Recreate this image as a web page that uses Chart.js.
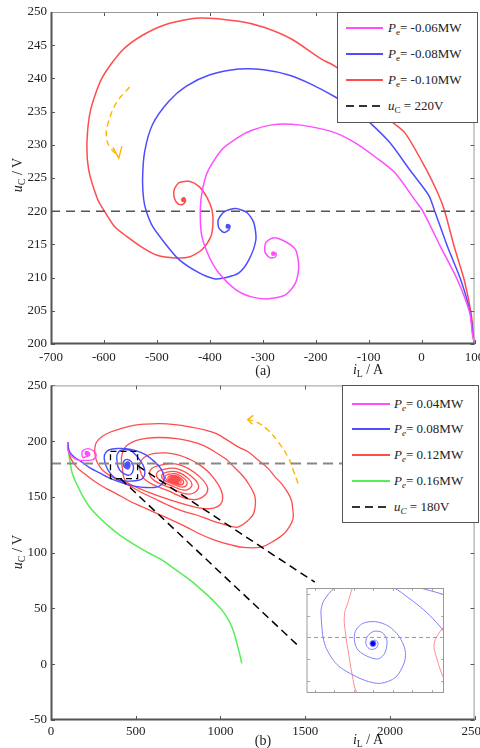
<!DOCTYPE html>
<html lang="en">
<head>
<meta charset="UTF-8">
<title>Phase trajectories</title>
<script src="https://cdn.jsdelivr.net/npm/chart.js@4.4.1/dist/chart.umd.min.js"></script>
<style>
  html, body { margin: 0; padding: 0; background: #fff; }
  body { width: 480px; height: 748px; position: relative; overflow: hidden; font-family: "Liberation Serif", serif; color: #222; }
  canvas { position: absolute; }
  #chartA { left: 0; top: 0; }
  #chartB { left: 0; top: 380px; }
  #inset { left: 302px; top: 583px; background: #fff; z-index: 3; }
  .legend { position: absolute; background: #fff; border: 1px solid #555; box-sizing: border-box; z-index: 5; }
  .row { position: absolute; left: 0; height: 18px; width: 100%; font-size: 13px; line-height: 18px; white-space: nowrap; }
  .sw { position: absolute; top: 8px; height: 2px; }
  .dash { background: repeating-linear-gradient(90deg, #333 0 8px, transparent 8px 13px); }
  .txt { position: absolute; top: 0; }
  .lab { position: absolute; font-size: 14px; white-space: nowrap; transform: translate(-50%, -50%); z-index: 5; }
  .rot { transform: translate(-50%, -50%) rotate(-90deg); }
  sub { font-size: 70%; vertical-align: -3px; line-height: 0; }
</style>
</head>
<body>
<canvas id="chartA" width="480" height="380"></canvas>
<canvas id="chartB" width="480" height="368"></canvas>
<canvas id="inset" width="147" height="115"></canvas>

<!-- legend (a) -->
<div class="legend" style="left:337px; top:12px; width:141px; height:111px;">
  <div class="row" style="top:6px"><div class="sw" style="left:8px; width:37px; background:#ff4dff"></div><span class="txt" style="left:50px"><i>P</i><sub>e</sub>= -0.06MW</span></div>
  <div class="row" style="top:32px"><div class="sw" style="left:8px; width:37px; background:#4d4dff"></div><span class="txt" style="left:50px"><i>P</i><sub>e</sub>= -0.08MW</span></div>
  <div class="row" style="top:58px"><div class="sw" style="left:8px; width:37px; background:#ff4d4d"></div><span class="txt" style="left:50px"><i>P</i><sub>e</sub>= -0.10MW</span></div>
  <div class="row" style="top:84px"><div class="sw dash" style="left:8px; width:37px"></div><span class="txt" style="left:50px"><i>u</i><sub>C</sub> = 220V</span></div>
</div>

<!-- legend (b) -->
<div class="legend" style="left:342px; top:385px; width:137px; height:138px;">
  <div class="row" style="top:9px"><div class="sw" style="left:9px; width:38px; background:#ff4dff"></div><span class="txt" style="left:51px"><i>P<sub>e</sub></i>= 0.04MW</span></div>
  <div class="row" style="top:34px"><div class="sw" style="left:9px; width:38px; background:#4d4dff"></div><span class="txt" style="left:51px"><i>P<sub>e</sub></i>= 0.08MW</span></div>
  <div class="row" style="top:60px"><div class="sw" style="left:9px; width:38px; background:#ff4d4d"></div><span class="txt" style="left:51px"><i>P<sub>e</sub></i>= 0.12MW</span></div>
  <div class="row" style="top:86px"><div class="sw" style="left:9px; width:38px; background:#55ee55"></div><span class="txt" style="left:51px"><i>P<sub>e</sub></i>= 0.16MW</span></div>
  <div class="row" style="top:112px"><div class="sw dash" style="left:9px; width:38px"></div><span class="txt" style="left:51px"><i>u<sub>C</sub></i> = 180V</span></div>
</div>

<div class="lab rot" style="left:18px; top:175px"><i>u</i><sub>C</sub> / V</div>
<div class="lab" style="left:263px; top:371px">(a)</div>
<div class="lab" style="left:368px; top:370px"><i>i</i><sub>L</sub> / A</div>
<div class="lab rot" style="left:18px; top:552px"><i>u</i><sub>C</sub> / V</div>
<div class="lab" style="left:263px; top:741px">(b)</div>
<div class="lab" style="left:368px; top:740px"><i>i</i><sub>L</sub> / A</div>

<script>
// ---- axis ticks ----
const xTicksA = [-700, -600, -500, -400, -300, -200, -100, 0, 100];
const yTicksA = [200, 205, 210, 215, 220, 225, 230, 235, 240, 245, 250];
const xTicksB = [0, 500, 1000, 1500, 2000, 2500];
const yTicksB = [-50, 0, 50, 100, 150, 200, 250];
const insetXTicks = [381, 404, 427, 449, 472, 495, 518];
const insetYTicks = [170, 175, 180, 185, 190];
const insetX = [372, 532];
const insetY = [167.3, 191.3];

// ---- (a) Pe < 0, trajectories [iL, uC] ----
const magA = [[100,200],[96,201.5],[91,204.7],[68.1,209.6],[36.2,214.6],[2.4,220],[-12.7,221.7],[-50.2,225.8],[-87.8,228.2],[-125.3,230.3],[-163,231.8],[-208,232.7],[-245.5,233.1],[-283,233],[-320.6,232.2],[-345,231.2],[-377,229.3],[-405,225.8],[-416,222.2],[-418,219.2],[-415,216.2],[-401,213.1],[-383,210.7],[-351,208.2],[-321,207.1],[-289,206.8],[-257,207.4],[-238,209.2],[-232,211.6],[-238,214.2],[-257,215.4],[-279,216.0],[-294,215.3],[-296,213.9],[-287,213.0],[-276,213.1],[-275,213.7],[-280,213.6]];
const blueA = [[100,200],[97,201.5],[92,204.7],[74.3,209.6],[49.3,214.6],[24.9,220],[13.6,222.4],[-22,226.2],[-59.6,230.3],[-97.2,233.3],[-130,235.5],[-163,237.2],[-208,239.1],[-251,240.5],[-298,241.3],[-345,241.4],[-401,240.5],[-445,238.8],[-477,236.6],[-508,233.1],[-523,229.0],[-527,224.8],[-525,221.8],[-520,220],[-508,217.7],[-486,215.3],[-458,212.7],[-420,210.7],[-390,209.8],[-369,210],[-345,210.7],[-326,212.7],[-313,215.7],[-317,218.3],[-330,219.8],[-351,220.4],[-373,219.9],[-384,218.7],[-383,217.5],[-373,216.8],[-364,217.2],[-362,217.8],[-367,218.0],[-366,217.7]];
const redA = [[100,200],[98,201.5],[93.5,204.7],[80.7,209.6],[61.9,214.6],[43.7,220],[32.4,222.4],[6.1,226.7],[-31.4,231.8],[-59.6,233.7],[-100,237],[-130,239.5],[-163,241.8],[-189,242.9],[-245,245.9],[-298,247.7],[-345,248.6],[-420,249.1],[-476,248.3],[-527,246.5],[-567,244.1],[-604,240.0],[-625,235.3],[-632,230.5],[-629,226.3],[-612,221.8],[-599,220],[-580,217.7],[-557,216.2],[-527,214.5],[-501,213.4],[-471,213.0],[-439,213.1],[-415,214.2],[-398,216.2],[-394,218.3],[-396,220.2],[-405,222.0],[-420,223.7],[-439,224.5],[-458,224.3],[-467,223.3],[-467,222.0],[-460,221.1],[-452,221.0],[-446,221.5],[-448,222.0],[-452,221.9],[-450,221.7]];
const refA = 220;
const arrowA = [[-551.6,238.7],[-576.6,236.3],[-592.4,233.2],[-595.4,231.2],[-589.2,229.7],[-575.5,228.5]];
const arrowHeadA = [[-583,229.6],[-572,228.0],[-566,229.8]];

// ---- (b) Pe > 0 ----
const magB = [[100,199.3],[97,195],[104,190],[125,186],[160,183],[212,182.8],[248,183.4],[267,187.3],[252,191.2],[219,193.3],[185,191.2],[183,188.2],[189,185.2],[213,186.4],[228,187.3],[224,189.7],[205,190.6],[203,188.2],[213,187.5],[219,188.8],[213,189.4]];
const blueB = [[100,199.3],[103,194],[110,190.5],[135,186],[170,182.5],[225,176.5],[287,171.5],[360,166],[443,161.5],[500,159.5],[560,158.5],[610,158.5],[640,159.8],[662,163],[668,167],[660,172],[638,177.5],[600,183],[560,187.8],[500,191.5],[443,193.3],[390,193.4],[345,192.3],[322,189.5],[314,185.8],[318,181],[330,176],[348,171.5],[372,167.5],[405,165],[450,164.2],[500,164.5],[535,166],[552,169.5],[553,174],[545,178],[535,180.6],[522.9,183.5],[508.4,186.3],[490.2,189.1],[473.8,191.3],[455,192.3],[430,192.4],[404.7,191.3],[392,188.5],[388.4,186.3],[389,183.5],[390.2,180.7],[393.5,178],[399.3,175.8],[407,173.8],[417.5,172.3],[439.3,170.2],[457.5,169.5],[475.6,170.9],[485.8,174.4],[486.5,177.2],[479.3,180.3],[467,182.6],[452,183.6],[437,183.2],[428.4,181.4],[427.6,179],[432,177],[444.7,175.5],[455.6,175.1],[463,176.5],[465.4,179.3],[460,181.1],[450,181.4],[442,180.1],[441,178.3],[446,177.3],[453,177.6],[455,178.8],[451,179.4],[448,178.8],[449,178.6]];
const redB = [
  [100,199.3],[104,192],[115,185],[150,177],[200,170.5],[248,165],[315,158.5],[385,153],[460,146.6],[540,141],[630,134.8],[716,129],[800,123],[872,117.2],[970,111],[1068,106.7],[1150,104.6],[1243,105.2],[1321,111.1],[1375,117],[1410,124],[1429,131],[1426,140],[1419,147],[1395,154.5],[1360,162],[1320,168.4],[1282,175.4],[1224,182.8],[1165,190.3],[1107,194.7],[1050,200],[976,206.7],[900,210.4],[820,212.8],[730,214.8],[644,215.7],[560,215.3],[488,214.2],[415,211.4],[351,208.2],[300,204],[268,199],
  [258,193],[262,186],[278,179.5],[305,174],[350,169],[404,164.5],[470,159.5],[540,153.5],[610,148.6],[683,143.2],[770,137.7],[859,133.8],[940,129.3],[1010,125.9],[1070,123.4],[1107,123.1],[1165,129.2],[1195,134.8],[1206,142.7],[1204,150],[1190,155.5],[1165,162],[1140,167.4],[1107,172.8],[1070,178.3],[1034,183.7],[970,190.1],[898,196.3],[820,200],[742,202.3],[640,203.3],[560,202.5],[500,200.5],[455,197],[430,193],
  [419.3,187.7],[415.6,185],[416.7,181.4],[421,175.8],[424.7,171.6],[430.2,167.3],[445,163.5],[500,159],[570,154.5],[650,150],[730,146],[810,142.5],[880,140],[940,139.5],[985,141.5],[1010,146],[1012,152],[995,159],[965,166],[925,173],[875,179],[815,184],[750,187.8],[680,189.5],[610,189],[560,186.5],[530,182],
  [521,177],[553.6,165.6],[686.6,155.8],[841.2,147.5],[923.5,154.9],[884.2,167.1],[754.6,178.9],[630.9,177.9],
  [583.7,173.3],[602,165.6],[698.6,158.5],[810.8,152.5],[870.1,157.8],[841.6,166.7],[747.8,175.2],[658.2,174.5],
  [624,171.1],[637.4,165.6],[707.2,160.4],[788.4,156.1],[831.1,160],[810.4,166.4],[742.8,172.5],[678.3,172],
  [654,169.6],[663.3,165.6],[713.6,161.9],[772,158.8],[802.9,161.6],[788.2,166.2],[739.3,170.6],[692.6,170.2],
  [674.7,168.5],[681.6,165.6],[718.1,162.9],[760.4,160.7],[782.7,162.7],[772,166],[736.7,169.2],[703.1,168.9],
  [690.3,167.7],[695.2,165.6],[721.4,163.7],[752,162],[768.3,163.5],[760.6,165.9],[734.9,168.2],[710.3,168],
  [701.4,167.1],[704.9,165.6],[723.8,164.2],[745.8,163],[757.4,164.1],[751.9,165.8],[733.5,167.5],[715.9,167.3],
  [709.2,166.7],[711.7,165.6],[725.5,164.6],[741.6,163.7],[750.2,164.5],[746.2,165.8],[732.6,167],[719.5,166.9],
  [715,166.4],[717,165.6],[726.8,164.9],[738,164.3],[743.7,164.8],[740.8,165.7],[731.7,166.5],[723.3,166.4],[730,165.6]
];
const greenB = [[100,199.3],[104,191],[111,182.8],[125,171.5],[150,162],[185,151.5],[228,141],[285,131.5],[345,123.1],[410,115.3],[482,108.2],[565,100.8],[656,93.3],[725,86],[795,78.3],[855,71.2],[912,63.5],[962,56.3],[1009,48.5],[1040,41.6],[1067,33.6],[1084,26],[1097,18.7],[1113,9.5],[1126,0.8]];
const refB = 180;
const arrowB = [[1458,162.0],[1430,174],[1399,185.8],[1341,199.2],[1282,209.7],[1214,217.1],[1161,219.3]];
const arrowHeadB = [[1194,223.1],[1161,219.3],[1188,215.1]];
const zoomBox = [[351,190.9],[511,190.9],[511,166.4],[351,166.4],[351,190.9]];
const leaderA = [[511,178],[1557,73.6]];
const leaderB = [[410,166.4],[1458,16.7]];

const xy = arr => arr.map(p => ({ x: p[0], y: p[1] }));
const endDot = r => c => (c.dataIndex === c.dataset.data.length - 1 ? r : 0);
const serif = "'Liberation Serif', 'Times New Roman', serif";
Chart.defaults.font.family = serif;

// inward ticks + box, MATLAB style
const framePlugin = {
  id: 'frame',
  afterDraw(chart, args, o) {
    const { ctx, chartArea: a } = chart;
    const sx = chart.scales.x, sy = chart.scales.y;
    ctx.save();
    ctx.lineWidth = 1;
    ctx.strokeStyle = o.tickColor;
    ctx.beginPath();
    o.xTicks.forEach(v => {
      const p = Math.round(sx.getPixelForValue(v)) + 0.5;
      ctx.moveTo(p, a.bottom); ctx.lineTo(p, a.bottom - o.len);
      ctx.moveTo(p, a.top); ctx.lineTo(p, a.top + o.len);
    });
    o.yTicks.forEach(v => {
      const p = Math.round(sy.getPixelForValue(v)) + 0.5;
      ctx.moveTo(a.left, p); ctx.lineTo(a.left + o.len, p);
      ctx.moveTo(a.right, p); ctx.lineTo(a.right - o.len, p);
    });
    ctx.stroke();
    ctx.strokeStyle = o.boxColor;
    ctx.beginPath();
    ctx.moveTo(a.left, a.top + 0.5); ctx.lineTo(a.right, a.top + 0.5);
    ctx.moveTo(a.right - 0.5, a.top); ctx.lineTo(a.right - 0.5, a.bottom);
    ctx.stroke();
    ctx.strokeStyle = o.axisColor;
    ctx.lineWidth = o.axisWidth;
    ctx.beginPath();
    ctx.moveTo(a.left + o.axisWidth / 2 - 0.5, a.top); ctx.lineTo(a.left + o.axisWidth / 2 - 0.5, a.bottom - 0.5);
    ctx.lineTo(a.right, a.bottom - 0.5);
    ctx.stroke();
    ctx.restore();
  }
};

function line(data, color, width, extra) {
  return Object.assign({
    data: xy(data), showLine: true, borderColor: color, backgroundColor: color,
    borderWidth: width, pointRadius: 0, tension: 0.3, fill: false
  }, extra || {});
}

function axes(xmin, xmax, ymin, ymax, xt, yt, xh, yw, xpad, show) {
  const fit = (s, isX) => {
    if (isX) s.height = xh; else s.width = yw;
    s.paddingLeft = s.paddingRight = s.paddingTop = s.paddingBottom = 0;
  };
  const tk = { font: { family: serif, size: 13 }, color: '#222', autoSkip: false, maxRotation: 0,
               callback: v => String(v) };
  return {
    x: { type: 'linear', min: xmin, max: xmax, display: show,
         afterBuildTicks: s => { s.ticks = xt.map(v => ({ value: v })); },
         afterFit: s => fit(s, true),
         grid: { display: false, drawTicks: false }, border: { display: false },
         ticks: Object.assign({ padding: xpad }, tk) },
    y: { type: 'linear', min: ymin, max: ymax, display: show,
         afterBuildTicks: s => { s.ticks = yt.map(v => ({ value: v })); },
         afterFit: s => fit(s, false),
         grid: { display: false, drawTicks: false }, border: { display: false },
         ticks: Object.assign({ padding: 4 }, tk) }
  };
}

const baseOpts = { responsive: false, animation: false, devicePixelRatio: 1, events: [] };

// ---- chart (a) ----
new Chart(document.getElementById('chartA'), {
  type: 'scatter',
  data: { datasets: [
    line([[-700, refA], [100, refA]], '#555', 1.6, { borderDash: [9, 6], tension: 0, order: 0 }),
    line(magA, '#ff4dff', 1.5, { order: 1, tension: 0.25, pointRadius: endDot(1.6) }),
    line(blueA, '#4d4dff', 1.5, { order: 2, tension: 0.25, pointRadius: endDot(1.6) }),
    line(redA, '#ff4d4d', 1.5, { order: 3, tension: 0.25, pointRadius: endDot(1.6) }),
    line(arrowA, '#ffb400', 1.4, { borderDash: [6, 4], tension: 0.4, order: 4 }),
    line(arrowHeadA, '#ffb400', 1.4, { tension: 0, order: 4 })
  ] },
  options: Object.assign({}, baseOpts, {
    layout: { padding: { top: 12, right: 3, left: 0, bottom: 0 } },
    plugins: { legend: { display: false }, tooltip: { enabled: false },
      frame: { xTicks: xTicksA, yTicks: yTicksA, len: 4, tickColor: '#555', boxColor: '#999', axisColor: '#555', axisWidth: 2 } },
    scales: axes(-700, 100, 200, 250, xTicksA, yTicksA, 36, 51, 6, true)
  }),
  plugins: [framePlugin]
});

// ---- chart (b) ----
new Chart(document.getElementById('chartB'), {
  type: 'scatter',
  data: { datasets: [
    line(leaderA, '#000', 1.5, { borderDash: [8, 5], tension: 0, order: 0 }),
    line(leaderB, '#000', 1.5, { borderDash: [8, 5], tension: 0, order: 0 }),
    line(zoomBox, '#000', 1.3, { borderDash: [6, 4], tension: 0, order: 0 }),
    line([[0, refB], [2500, refB]], '#888', 2, { borderDash: [10, 6], tension: 0, order: 1 }),
    line(magB, '#ff4dff', 1.4, { order: 2, pointRadius: endDot(1.5) }),
    line(blueB, '#4d4dff', 1.4, { order: 3, pointRadius: endDot(2.2) }),
    line(redB, '#ff4d4d', 1.3, { order: 4, tension: 0.4, pointRadius: endDot(2.5) }),
    line(greenB, '#55ee55', 1.5, { order: 5 }),
    line(arrowB, '#ffb400', 1.4, { borderDash: [6, 4], tension: 0.4, order: 6 }),
    line(arrowHeadB, '#ffb400', 1.4, { tension: 0, order: 6 })
  ] },
  options: Object.assign({}, baseOpts, {
    layout: { padding: { top: 5, right: 2, left: 0, bottom: 0 } },
    plugins: { legend: { display: false }, tooltip: { enabled: false },
      frame: { xTicks: xTicksB, yTicks: yTicksB, len: 4, tickColor: '#555', boxColor: '#999', axisColor: '#555', axisWidth: 2 } },
    scales: axes(0, 2500, -50, 250, xTicksB, yTicksB, 28, 51, 4, true)
  }),
  plugins: [framePlugin]
});

// ---- zoomed inset ----
new Chart(document.getElementById('inset'), {
  type: 'scatter',
  data: { datasets: [
    line([[insetX[0], refB], [insetX[1], refB]], '#999', 1, { borderDash: [4, 3], tension: 0, order: 0 }),
    line(blueB, '#8080ff', 1, { order: 1, pointRadius: endDot(3), pointBackgroundColor: '#0000ff' }),
    line(redB, '#ff8c8c', 1, { order: 2, tension: 0.4 })
  ] },
  options: Object.assign({}, baseOpts, {
    layout: { padding: 0 },
    plugins: { legend: { display: false }, tooltip: { enabled: false },
      frame: { xTicks: insetXTicks, yTicks: insetYTicks, len: 3, tickColor: '#aaa', boxColor: '#999', axisColor: '#999', axisWidth: 1 } },
    scales: axes(insetX[0], insetX[1], insetY[0], insetY[1], insetXTicks, insetYTicks, 0, 0, 0, false)
  }),
  plugins: [framePlugin]
});
</script>
</body>
</html>
